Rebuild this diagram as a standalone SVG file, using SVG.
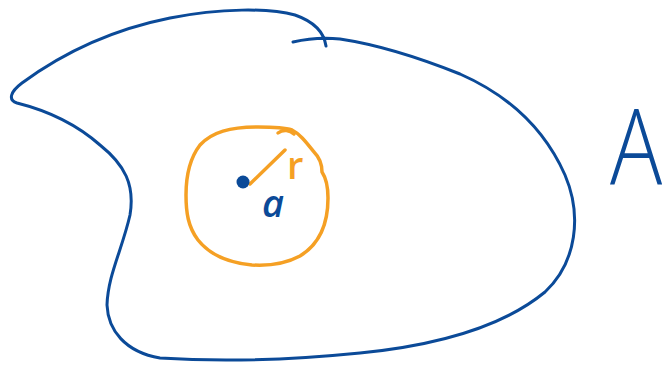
<svg xmlns="http://www.w3.org/2000/svg" width="671" height="370" viewBox="0 0 671 370">
<style>
.blue{fill:none;stroke:#0b4a98;stroke-width:3;stroke-linecap:round;stroke-linejoin:round}
.orange{fill:none;stroke:#f5a024;stroke-width:3.5;stroke-linecap:round;stroke-linejoin:round}
.tb{fill:#0b4a98;font-family:"Open Sans","Liberation Sans",Arial,sans-serif}
.to{fill:#f5a024;font-family:"Open Sans","Liberation Sans",Arial,sans-serif}
</style>
<rect width="671" height="370" fill="#fff"/>
<g id="regionA">
<path class="blue" d="M293,42 C310,38 322,37 340,39 C380,45 420,58 460,74 C510,96 545,130 565,175 C582,215 577,262 545,292 C505,325 440,345 360,353 C290,360 220,362 160,358 C125,352 108,330 107,305 C108,275 122,250 130,215 C135,185 125,165 100,145 C75,123 45,110 17,103 C8,100 10,92 22,83 C60,55 110,30 170,18 C220,8 270,8 295,15 C315,22 324,32 326,46"/>
<text class="tb" x="0" y="0" font-size="106" font-weight="300" transform="translate(610,185) scale(0.82,1)">A</text>
</g>
<g id="disk">
<path class="orange" d="M258,127 C270,127 283,127 292,130 C300,134 306,142 314,152 C320,158 322,165 322,172 C326,178 328,188 328,198 C328,225 318,245 300,256 C285,264 268,266 252,265 C230,263 210,255 198,240 C188,227 186,212 186,195 C186,175 190,158 200,145 C212,132 230,127 258,127 Z"/>
<path class="orange" d="M278,133 C283,129 290,130 294,134"/>
<path class="orange" d="M250,184 L285,150"/>
<text class="to" x="287" y="179" font-size="38" font-weight="600">r</text>
</g>
<g id="center">
<circle cx="243" cy="182" r="6.5" fill="#0b4a98"/>
<text class="tb" x="262" y="217" font-size="38" font-weight="600" font-style="italic">a</text>
</g>
</svg>
